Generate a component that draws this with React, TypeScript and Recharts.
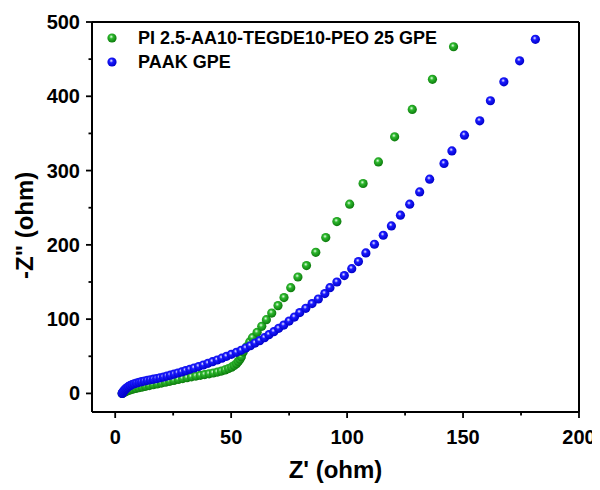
import React from "react"
import {
  ReferenceLine,
  Scatter,
  ScatterChart,
  XAxis,
  YAxis,
} from "recharts"

// Z' (ohm) and -Z'' (ohm)
const GPE_ZRE = [
  3, 3.2, 3.6, 4.1, 4.8, 5.6, 6.6, 7.7, 8.9, 10.2, 11.6, 13.1, 14.7, 16.4, 18.1,
  19.9, 21.7, 23.5, 25.3, 27.2, 29.1, 31, 32.9, 34.8, 36.7, 38.6, 40.5, 42.3,
  44.1, 45.8, 47.4, 48.9, 50.2, 51.3, 52.3, 53.1, 53.8, 54.4, 55.2, 56.6, 58,
  59.2, 61.2, 63.2, 65.2, 67.5, 70.2, 72.8, 75.7, 78.8, 82.5, 86.5, 90.8, 95.6,
  101.1, 106.9, 113.5, 120.5, 128.1, 136.8, 145.9,
]
const GPE_ZIM = [
  0, 0.4, 1, 1.8, 2.8, 3.8, 4.8, 5.8, 6.8, 7.7, 8.6, 9.6, 10.6, 11.7, 12.8,
  13.9, 15.1, 16.3, 17.5, 18.8, 20, 21.2, 22.3, 23.4, 24.4, 25.4, 26.4, 27.5,
  28.7, 30.1, 31.7, 33.4, 35.4, 37.6, 40.1, 43, 46, 49.5, 55.9, 62.6, 69.3,
  75, 82.2, 90.3, 99.3, 108.2, 118.2, 129, 142.4, 156.7, 172.1, 190, 209.8, 231.4,
  254.7, 282.6, 311.7, 345.4, 382.3, 422.8, 466.7,
]

const PAAK_ZRE = [
  3, 3.1, 3.3, 3.6, 3.9, 4.3, 4.7, 5.2, 5.8, 6.5, 7.3, 8.2, 9.2, 10.3, 11.4,
  12.6, 13.9, 15.2, 16.5, 17.9, 19.3, 20.8, 22.3, 23.8, 25.4, 27, 28.7, 30.4,
  32.2, 34, 36, 38, 40, 42, 44, 46, 48, 50.1, 52.3, 54.3, 56.3, 58.3, 60.3,
  62.3, 64.4, 66.3, 68.4, 70.5, 72.7, 75, 77.3, 79.6, 82.2, 84.9, 87.6, 90.4,
  92.6, 95.6, 98.8, 102, 104.9, 108.1, 111.8, 115.6, 119.1, 123, 127, 131.3,
  135.6, 141.8, 145.2, 150.6, 157.2, 161.8, 167.6, 174.4, 181.2,
]
const PAAK_ZIM = [
  0, 0.5, 1.4, 2.5, 3.8, 5.2, 6.6, 8, 9.4, 10.7, 11.9, 13, 14, 14.9, 15.8,
  16.7, 17.6, 18.4, 19.2, 20, 21, 22, 23.3, 24.6, 26, 27.5, 29, 30.7,
  32.4, 34.2, 36.2, 38.3, 40.5, 42.7, 45, 47.5, 49.9, 52.6, 55.3, 58, 61.1, 64.2, 67.8,
  71, 75, 79.1, 83.1, 87.6, 92, 97.4, 102.8, 108.8, 114.6, 120.9, 127.1, 134.4,
  142.4, 150, 158.6, 168, 177.5, 189.1, 200.8, 212.9, 225.5, 239.9, 254.7, 271.3,
  288.4, 309.6, 326.5, 347.7, 367, 394, 419.5, 447.8, 476.7,
]

const X_TICKS = [0, 25, 50, 75, 100, 125, 150, 175, 200]
const Y_TICKS = [0, 50, 100, 150, 200, 250, 300, 350, 400, 450, 500]

const gpeData = GPE_ZRE.map((x, i) => ({ x, y: GPE_ZIM[i] }))
const paakData = PAAK_ZRE.map((x, i) => ({ x, y: PAAK_ZIM[i] }))

const SERIES = [
  { name: "PI 2.5-AA10-TEGDE10-PEO 25 GPE", grad: "ballGreen" },
  { name: "PAAK GPE", grad: "ballBlue" },
]

const FONT = "'Liberation Sans', Arial, sans-serif"
const TICK_SIZE = 6
const TICK_MARGIN = 5

const Ball = (grad: string) => (props: any) => {
  const { cx, cy } = props
  if (cx == null || cy == null) return <g />
  return <circle cx={cx} cy={cy} r={4.6} fill={`url(#${grad})`} />
}

const XTick = (props: any) => {
  const { x, y, payload } = props
  const major = payload.value % 50 === 0
  const axisY = y - TICK_SIZE - TICK_MARGIN
  return (
    <g>
      <line x1={x} x2={x} y1={axisY} y2={axisY + (major ? 6 : 3.5)} stroke="#000" strokeWidth={1.8} />
      {major && (
        <text x={x} y={axisY + 32} textAnchor="middle" fontFamily={FONT} fontWeight="bold" fontSize={20} fill="#000">
          {payload.value}
        </text>
      )}
    </g>
  )
}

const YTick = (props: any) => {
  const { x, y, payload } = props
  const major = payload.value % 100 === 0
  const axisX = x + TICK_SIZE + TICK_MARGIN
  return (
    <g>
      <line x1={axisX} x2={axisX - (major ? 6 : 3.5)} y1={y} y2={y} stroke="#000" strokeWidth={1.8} />
      {major && (
        <text x={axisX - 12} y={y + 7} textAnchor="end" fontFamily={FONT} fontWeight="bold" fontSize={20} fill="#000">
          {payload.value}
        </text>
      )}
    </g>
  )
}

const LegendBox = () => (
  <div
    style={{
      position: "absolute",
      top: 18,
      left: 98,
      fontFamily: FONT,
      fontWeight: "bold",
      fontSize: 18,
      color: "#000",
    }}
  >
    {SERIES.map((s) => (
      <div key={s.name} style={{ display: "flex", alignItems: "center", height: 24, whiteSpace: "nowrap" }}>
        <svg width={12} height={12} style={{ marginRight: 20 }}>
          <circle cx={6} cy={6} r={4.6} fill={`url(#${s.grad})`} />
        </svg>
        <span>{s.name}</span>
      </div>
    ))}
  </div>
)

export default function App() {
  return (
    <div style={{ position: "relative", width: 592, height: 482 }}>
      <svg width={0} height={0} style={{ position: "absolute" }}>
        <defs>
          <radialGradient id="ballGreen" cx="0.42" cy="0.4" r="0.6" fx="0.42" fy="0.36">
            <stop offset="0%" stopColor="#e8ffe8" />
            <stop offset="35%" stopColor="#2db82d" />
            <stop offset="100%" stopColor="#0c7a0c" />
          </radialGradient>
          <radialGradient id="ballBlue" cx="0.42" cy="0.4" r="0.6" fx="0.42" fy="0.36">
            <stop offset="0%" stopColor="#f0f0ff" />
            <stop offset="35%" stopColor="#1a1aff" />
            <stop offset="100%" stopColor="#0000c8" />
          </radialGradient>
        </defs>
      </svg>
      <ScatterChart width={592} height={482} margin={{ top: 14, right: 21, bottom: 0, left: 0 }}>
        <XAxis
          type="number"
          dataKey="x"
          domain={[-10, 200]}
          ticks={X_TICKS}
          interval={0}
          allowDataOverflow
          height={78}
          axisLine={{ stroke: "#000", strokeWidth: 2 }}
          tickLine={false}
          tickSize={TICK_SIZE}
          tickMargin={TICK_MARGIN}
          tick={<XTick />}
          label={{
            value: "Z' (ohm)",
            position: "insideBottom",
            offset: 12,
            style: { fontFamily: FONT, fontWeight: "bold", fontSize: 24, fill: "#000" },
          }}
        />
        <YAxis
          type="number"
          dataKey="y"
          domain={[-25, 500]}
          ticks={Y_TICKS}
          interval={0}
          allowDataOverflow
          width={84}
          axisLine={{ stroke: "#000", strokeWidth: 2 }}
          tickLine={false}
          tickSize={TICK_SIZE}
          tickMargin={TICK_MARGIN}
          tick={<YTick />}
          label={{
            value: '-Z" (ohm)',
            angle: -90,
            position: "insideLeft",
            offset: 16,
            dy: 62,
            style: { fontFamily: FONT, fontWeight: "bold", fontSize: 24, fill: "#000" },
          }}
        />
        <ReferenceLine y={500} stroke="#000" strokeWidth={2} />
        <ReferenceLine x={200} stroke="#000" strokeWidth={2} />
        <Scatter name={SERIES[0].name} data={gpeData} fill="#1d9a1d" shape={Ball("ballGreen")} isAnimationActive={false} />
        <Scatter name={SERIES[1].name} data={paakData} fill="#1010f0" shape={Ball("ballBlue")} isAnimationActive={false} />
      </ScatterChart>
      <LegendBox />
    </div>
  )
}
